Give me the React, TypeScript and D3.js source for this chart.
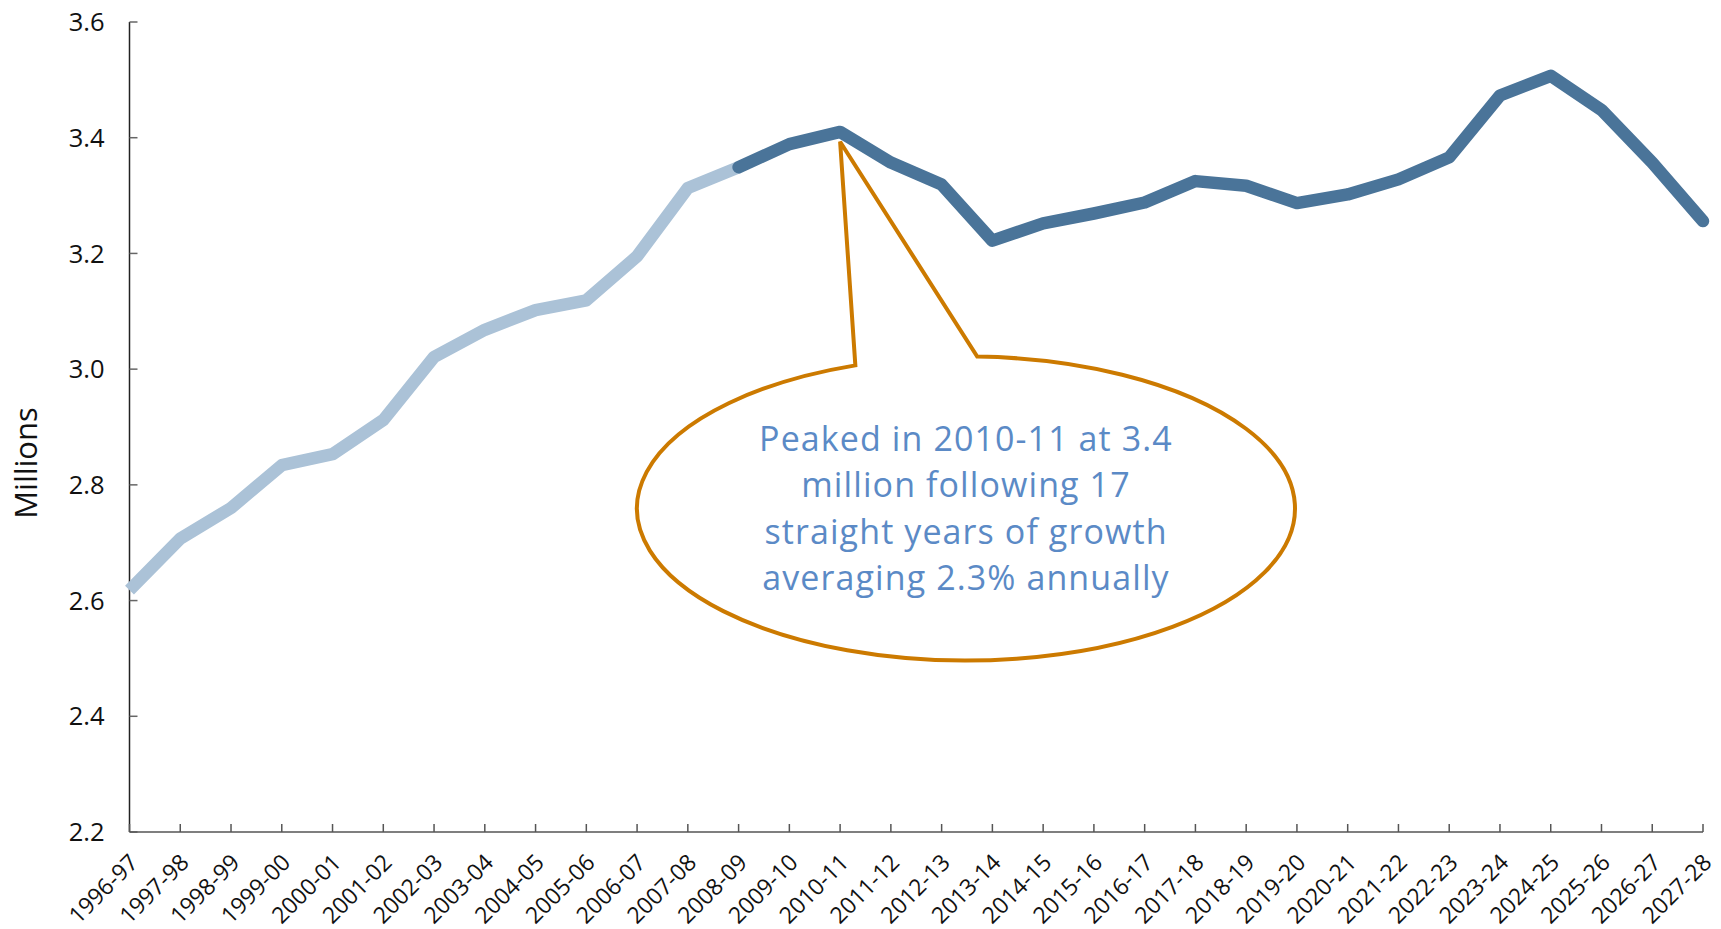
import * as d3 from "d3";

const years = [
  "1996-97", "1997-98", "1998-99", "1999-00", "2000-01", "2001-02", "2002-03", "2003-04",
  "2004-05", "2005-06", "2006-07", "2007-08", "2008-09", "2009-10", "2010-11", "2011-12",
  "2012-13", "2013-14", "2014-15", "2015-16", "2016-17", "2017-18", "2018-19", "2019-20",
  "2020-21", "2021-22", "2022-23", "2023-24", "2024-25", "2025-26", "2026-27", "2027-28",
];

// millions
const values = [
  2.618, 2.707, 2.76, 2.834, 2.853, 2.912, 3.021, 3.068,
  3.102, 3.119, 3.195, 3.313, 3.349, 3.389, 3.41, 3.357,
  3.319, 3.222, 3.252, 3.269, 3.288, 3.325, 3.317, 3.287,
  3.302, 3.328, 3.366, 3.473, 3.507, 3.448, 3.357, 3.256,
];

// history runs up to 2008-09, the darker line starts there
const splitYear = "2008-09";
const yTicks = [2.2, 2.4, 2.6, 2.8, 3.0, 3.2, 3.4, 3.6];
const peakYear = "2010-11";
const calloutLines = [
  "Peaked in 2010-11 at 3.4",
  "million following 17",
  "straight years of growth",
  "averaging 2.3% annually",
];

const W = 1721;
const H = 929;
const margin = { top: 22, right: 18, bottom: 97, left: 129.5 };

export default function App() {
  const x = d3
    .scalePoint<string>()
    .domain(years)
    .range([margin.left, W - margin.right]);
  const y = d3
    .scaleLinear()
    .domain([2.2, 3.6])
    .range([H - margin.bottom, margin.top]);

  const pts = years.map((yr, i) => ({ yr, v: values[i] }));
  const split = years.indexOf(splitYear);
  const line = d3
    .line<{ yr: string; v: number }>()
    .x((d) => x(d.yr)!)
    .y((d) => y(d.v));

  const axisY = y(2.2);
  const font = "'Open Sans', 'Noto Sans', sans-serif";

  // callout (wedge ellipse)
  const cx = 966;
  const cy = 508.5;
  const rx = 329;
  const ry = 152;
  const tipX = x(peakYear)!;
  const tipY = y(3.4) + 4;
  const pt = (ang: number) => [cx + rx * Math.cos(ang), cy + ry * Math.sin(ang)];
  const [lx, ly] = pt(Math.atan2(-0.952, -0.34));
  const [rbx, rby] = pt(Math.atan2(-0.998, 0.034));
  const callout = `M${lx},${ly} L${tipX},${tipY} L${rbx},${rby} A${rx},${ry} 0 1 1 ${lx},${ly} Z`;

  return (
    <svg
      width={W}
      height={H}
      style={{ position: "absolute", left: 0, top: 0, background: "#fff" }}
      fontFamily={font}
    >
      {/* y axis */}
      <line x1={margin.left} x2={margin.left} y1={y(3.6)} y2={axisY} stroke="#222" strokeWidth={1.5} />
      {yTicks.map((t) => (
        <g key={t} transform={`translate(0,${y(t)})`}>
          <line x1={margin.left} x2={margin.left + 8} stroke="#666" strokeWidth={1.5} />
          <text x={margin.left - 25} dy="0.36em" textAnchor="end" fontSize={25.5} fill="#111">
            {t.toFixed(1)}
          </text>
        </g>
      ))}
      <text
        transform={`translate(37,463) rotate(-90)`}
        textAnchor="middle"
        fontSize={31}
        fill="#111"
      >
        Millions
      </text>

      {/* x axis */}
      <line x1={margin.left} x2={W - margin.right} y1={axisY} y2={axisY} stroke="#555" strokeWidth={1.5} />
      {years.map((yr) => (
        <g key={yr}>
          <line x1={x(yr)} x2={x(yr)} y1={axisY} y2={axisY - 8} stroke="#555" strokeWidth={1.5} />
          <text
            transform={`translate(${x(yr)! + 10},${axisY + 32}) rotate(-45)`}
            textAnchor="end"
            fontSize={23}
            fill="#111"
          >
            {yr}
          </text>
        </g>
      ))}

      {/* lines */}
      <path
        d={line(pts.slice(0, split + 1)) ?? ""}
        fill="none"
        stroke="#abc2d7"
        strokeWidth={12.5}
        strokeLinejoin="round"
      />
      <path
        d={line(pts.slice(split)) ?? ""}
        fill="none"
        stroke="#4a7499"
        strokeWidth={12.5}
        strokeLinejoin="round"
        strokeLinecap="round"
      />

      {/* callout */}
      <path d={callout} fill="#fff" stroke="#cc7a00" strokeWidth={4} strokeLinejoin="miter" />
      {calloutLines.map((t, i) => (
        <text
          key={i}
          x={cx}
          y={cy + (i - 1.5) * 46.5}
          dy="0.35em"
          textAnchor="middle"
          fontSize={34}
          letterSpacing={1.1}
          fill="#5b8ac6"
        >
          {t}
        </text>
      ))}
    </svg>
  );
}
